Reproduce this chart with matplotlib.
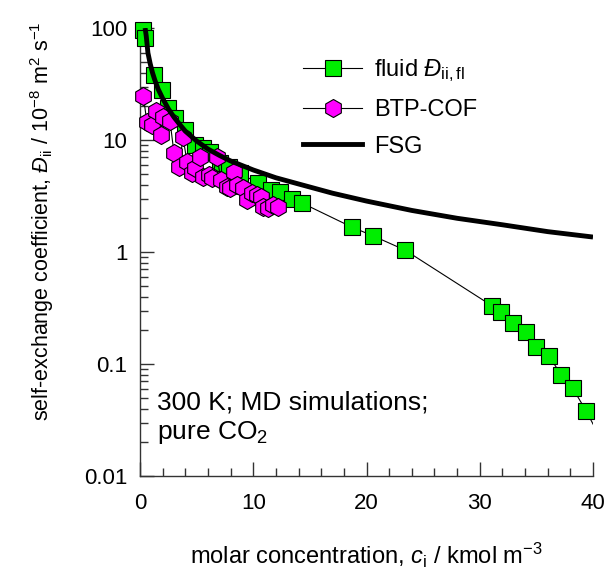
import matplotlib
matplotlib.use("Agg")
import matplotlib.pyplot as plt
from matplotlib.lines import Line2D
from matplotlib.ticker import LogLocator, NullFormatter, MultipleLocator

plt.rcParams['font.family'] = ['Liberation Sans', 'DejaVu Sans']
plt.rcParams['mathtext.fontset'] = 'custom'
plt.rcParams['mathtext.rm'] = 'Liberation Sans'
plt.rcParams['mathtext.it'] = 'Liberation Sans:italic'
plt.rcParams['mathtext.bf'] = 'Liberation Sans:bold'

# fluid self-exchange coefficient (green squares); last point lies beyond x=40 (clipped)
fluid_c = [0.3, 0.4, 1.25, 1.9, 2.5, 3.1, 4.0, 4.85, 5.6, 6.2, 7.1, 7.9, 8.8,
           10.4, 11.6, 12.4, 13.4, 14.3, 18.7, 20.6, 23.4, 31.1, 31.9, 32.9,
           34.1, 35.0, 36.1, 37.2, 38.2, 39.4, 41.5]
fluid_D = [95, 82, 38, 27.9, 19.3, 15.7, 12.3, 9.0, 8.5, 7.8, 6.2, 5.7, 5.1,
           4.1, 3.6, 3.4, 3.0, 2.74, 1.67, 1.39, 1.04, 0.33, 0.29, 0.232,
           0.193, 0.142, 0.118, 0.080, 0.061, 0.038, 0.015]

# BTP-COF (magenta hexagons)
cof_c = [0.3, 0.6, 1.06, 1.4, 1.85, 2.0, 2.65, 3.0, 3.45, 3.8, 4.15, 4.6, 4.85,
         5.3, 5.6, 6.1, 6.35, 6.8, 7.15, 7.7, 7.95, 8.3, 8.55, 9.1, 9.45, 9.9,
         10.3, 10.7, 10.9, 11.3, 11.75, 12.2]
cof_D = [24.7, 14.5, 13.6, 18.2, 11.1, 16.0, 14.8, 7.65, 5.74, 10.6, 6.36, 5.07,
         5.62, 7.05, 4.67, 4.87, 4.58, 7.05, 4.39, 3.80, 3.70, 5.18, 3.96, 3.70,
         2.91, 3.37, 3.23, 3.10, 2.52, 2.47, 2.63, 2.52]

# FSG curve
fsg_c = [0.45, 0.55, 0.7, 0.9, 1.1, 1.3, 1.6, 2.0, 2.5, 3.0, 3.5, 4.0, 5.0, 6.0,
         7.0, 8.0, 10, 12, 14, 17, 20, 24, 28, 32, 36, 40]
fsg_D = [100, 85, 60, 48, 40, 34.5, 28.5, 23.5, 19, 16, 13.8, 12.0, 9.8, 8.3,
         7.3, 6.5, 5.4, 4.6, 4.05, 3.35, 2.85, 2.35, 2.0, 1.75, 1.52, 1.36]

yticks = [0.01, 0.1, 1, 10, 100]
ytick_labels = ['0.01', '0.1', '1', '10', '100']
xticks = [0, 10, 20, 30, 40]

fig = plt.figure(figsize=(6.10, 5.73), dpi=100)
ax = fig.add_axes([140/610, 97/573, 453/610, 448/573])
ax.set_yscale('log')
ax.set_xlim(0, 40)
ax.set_ylim(0.01, 100)

green = '#00ee00'
magenta = '#ff00ff'

# green: connecting line (clipped) + markers
ax.plot(fluid_c, fluid_D, '-', color='black', lw=0.8, zorder=2)
ax.plot(fluid_c[:-1], fluid_D[:-1], 's', color=green, mec='black', mew=0.8,
        ms=11, zorder=3, clip_on=False)

# magenta hexagons
ax.plot(cof_c, cof_D, '-', color='black', lw=0.8, zorder=4)
ax.plot(cof_c, cof_D, 'h', color=magenta, mec='black', mew=0.8,
        ms=13, zorder=5, clip_on=False)

# FSG curve
ax.plot(fsg_c, fsg_D, '-', color='black', lw=3.5, zorder=6, solid_capstyle='butt')

for s in ['top', 'right']:
    ax.spines[s].set_visible(False)
for s in ['left', 'bottom']:
    ax.spines[s].set_color('#333333')
    ax.spines[s].set_linewidth(1.0)

ax.set_yticks(yticks)
ax.set_yticklabels(ytick_labels)
ax.yaxis.set_minor_locator(LogLocator(base=10, subs=range(2, 10)))
ax.yaxis.set_minor_formatter(NullFormatter())
ax.set_xticks(xticks)
ax.set_xticklabels([str(v) for v in xticks])
ax.xaxis.set_minor_locator(MultipleLocator(2))

ax.tick_params(axis='both', which='major', direction='in', length=10, width=1,
               color='#333333', labelsize=16, pad=9)
ax.tick_params(axis='both', which='minor', direction='in', length=6, width=1,
               color='#333333')
ax.tick_params(axis='x', which='major', pad=12)

ax.set_xlabel(r'molar concentration, $\mathit{c}_\mathrm{i}$ / kmol m$^{-3}$',
              fontsize=17)
ax.xaxis.set_label_coords(0.5, -0.145)
ax.set_ylabel(r'self-exchange coefficient, $\mathit{Đ}_\mathrm{ii}$ / 10$^{-8}$ m$^2$ s$^{-1}$',
              fontsize=15.5)
ax.yaxis.set_label_coords(-0.185, 0.569)

ax.text(0.0375, 0.19, '300 K; MD simulations;\npure CO$_2$', transform=ax.transAxes,
        fontsize=19, va='top', ha='left', linespacing=1.2)

handles = [
    Line2D([], [], color='black', lw=0.8, marker='s', mfc=green, mec='black',
           mew=0.8, ms=11),
    Line2D([], [], color='black', lw=0.8, marker='h', mfc=magenta, mec='black',
           mew=0.8, ms=13),
    Line2D([], [], color='black', lw=3.5),
]
labels = [r'fluid $\mathit{Đ}_\mathrm{ii,fl}$', 'BTP-COF', 'FSG']
ax.legend(handles, labels, loc='upper left', bbox_to_anchor=(0.34, 0.955),
          frameon=False, fontsize=17, handlelength=2.5, handletextpad=0.5,
          labelspacing=0.62, borderaxespad=0)

fig.savefig('out.png', dpi=100)
